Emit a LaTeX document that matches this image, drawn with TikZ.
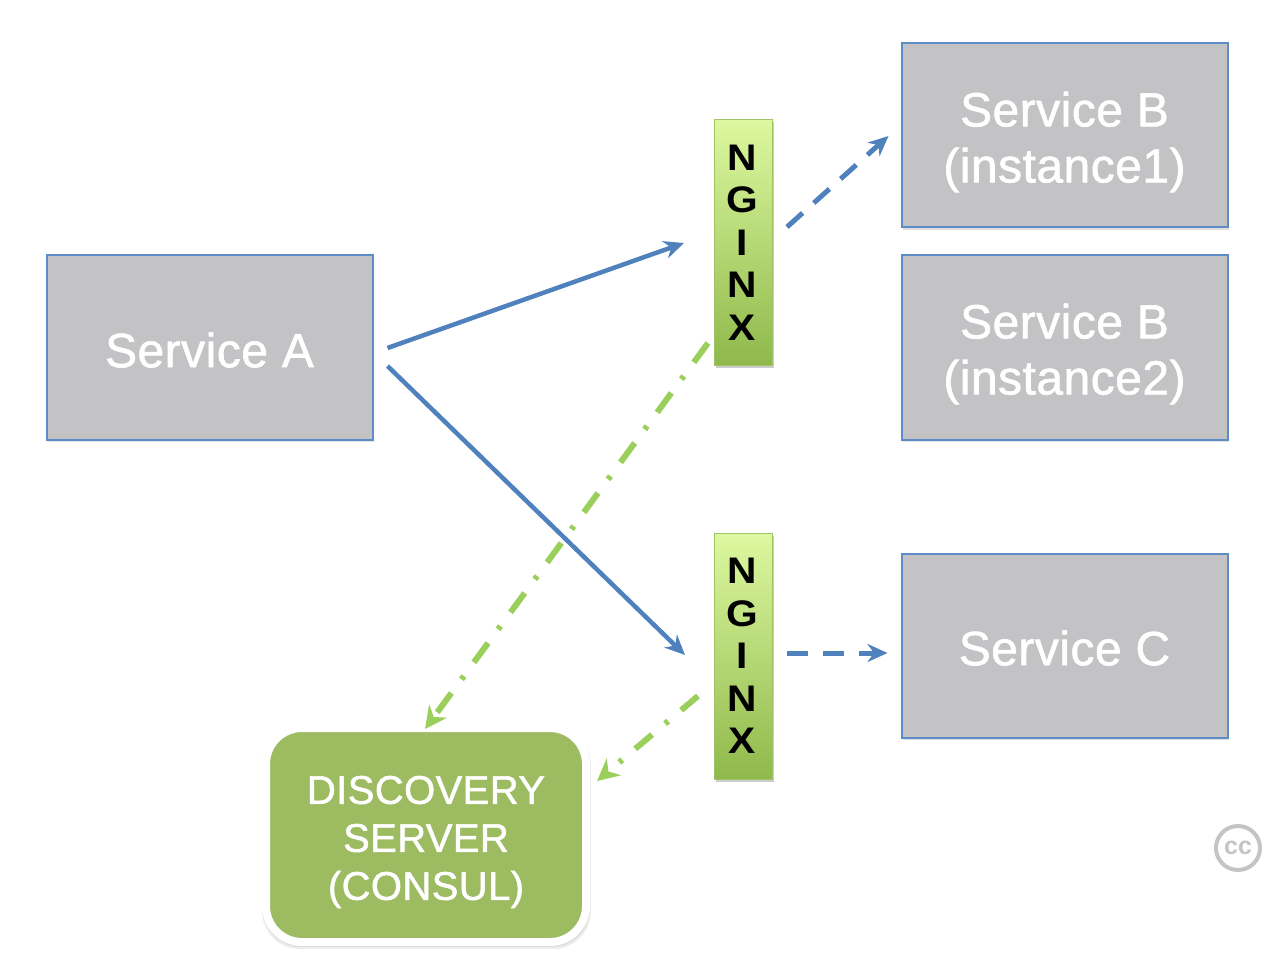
\documentclass[tikz,border=0pt]{standalone}
\usepackage{fontspec}
\setmainfont{Liberation Sans}
\newfontfamily\heavyfont[FakeBold=1.3,LetterSpace=1.0]{Liberation Sans}
\newfontfamily\ngfont[FakeStretch=1.1]{Liberation Sans}
\usetikzlibrary{arrows.meta,shadows,calc}
\definecolor{boxgray}{HTML}{C3C3C5}
\definecolor{boxedge}{HTML}{5E8CC6}
\definecolor{arrowblue}{HTML}{4F81BD}
\definecolor{dashgreen}{HTML}{9BCF5C}
\definecolor{consulgreen}{HTML}{9DBB61}
\definecolor{ngtop}{HTML}{DDF8A0}
\definecolor{ngbot}{HTML}{8FB94B}
\definecolor{ccgray}{HTML}{C4C4C4}
\newcommand{\ngl}[1]{#1\kern3pt}
\newcommand{\lowered}[2]{\raisebox{-#1}[\height][\depth]{#2}}
\tikzset{
 svc/.style={draw=boxedge,line width=2pt,fill=boxgray,text=white,align=center,
   minimum width=326pt,minimum height=184pt,inner sep=0pt,
   font=\heavyfont\fontsize{48}{56}\selectfont,
   copy shadow={draw=none,fill=black,opacity=.12,shadow xshift=1pt,shadow yshift=-2.5pt}},
 ngx/.style={draw=ngbot!85!white,line width=1pt,top color=ngtop,bottom color=ngbot,
   minimum width=58pt,minimum height=246pt,inner sep=0pt,align=center,text=black,
   font=\ngfont\fontsize{37}{42.4}\bfseries\selectfont,
   copy shadow={draw=none,fill=black,opacity=.2,shadow xshift=1pt,shadow yshift=-2.5pt}},
 consul/.style={draw=white,line width=8pt,fill=consulgreen,rounded corners=36pt,text=white,align=center,
   minimum width=320pt,minimum height=214pt,inner sep=0pt,
   font=\heavyfont\fontsize{40}{48}\selectfont},
 call/.style={arrowblue,line width=4.5pt,-{Stealth[length=20pt,width=18pt]}},
 route/.style={arrowblue,line width=5pt,-{Stealth[length=20pt,width=18pt]},dash pattern=on 21pt off 15pt},
 disco/.style={dashgreen,line width=6pt,-{Stealth[length=22pt,width=22pt]},dash pattern=on 24pt off 17pt on 4pt off 17pt},
 discoshort/.style={disco,dash pattern=on 22pt off 17pt on 4pt off 17pt},
}
\begin{document}
\begin{tikzpicture}[x=1pt,y=-1pt]
\useasboundingbox (0,0) rectangle (1262,960);
\node[svc] (a) at (209.5,347.5) {\lowered{2.5pt}{Service A}};
\node[svc] (b1) at (1064.5,135.5) {\lowered{6.5pt}{Service B}\\\lowered{6.5pt}{(instance1)}};
\node[svc] (b2) at (1064.5,347.5) {\lowered{6.5pt}{Service B}\\\lowered{6.5pt}{(instance2)}};
\node[svc] (c) at (1064.5,645.5) {\lowered{2.5pt}{Service C}};
\node[ngx] (n1) at (743.5,242.5) {\ngl{N}\\\ngl{G}\\\ngl{I}\\\ngl{N}\\\ngl{X}};
\node[ngx] (n2) at (743.5,656) {\ngl{N}\\\ngl{G}\\\ngl{I}\\\ngl{N}\\\ngl{X}};
\fill[black,opacity=.07,rounded corners=38pt] (262,727) rectangle (591,949);
\fill[black,opacity=.07,rounded corners=38pt] (263,728) rectangle (590,947);
\node[consul] (d) at (426,835) {\lowered{7pt}{DISCOVERY}\\\lowered{7pt}{SERVER}\\\lowered{7pt}{(CONSUL)}};
\node[circle,draw=ccgray,line width=4pt,minimum size=44pt,inner sep=0pt,text=ccgray,
  font=\fontsize{25}{25}\bfseries\selectfont] (cc) at (1238,848) {cc};
\coordinate (as1) at ($(a.east)+(14,0.5)$);
\coordinate (as2) at ($(a.east)+(14,18.5)$);
\coordinate (n1w) at ($(n1.west)+(-30,0.5)$);
\coordinate (n2w) at ($(n2.west)+(-29,-1)$);
\coordinate (n1e) at ($(n1.east)+(14,-15.5)$);
\coordinate (b1w) at ($(b1.west)+(-12,0.5)$);
\coordinate (n2e) at ($(n2.east)+(14,-3)$);
\coordinate (cw) at ($(c.west)+(-13,7.5)$);
\coordinate (n1s) at ($(n1.west)+(-6,100.5)$);
\coordinate (dn) at ($(d.north)+(-1,5)$);
\coordinate (n2s) at ($(n2.west)+(-16,40)$);
\coordinate (de) at ($(d.east)+(7,-54)$);
\draw[call] (as1) -- (n1w);
\draw[call] (as2) -- (n2w);
\draw[route] (n1e) -- (b1w);
\draw[route] (n2e) -- (cw);
\draw[disco] (n1s) -- (dn);
\draw[discoshort] (n2s) -- (de);
\end{tikzpicture}
\end{document}
